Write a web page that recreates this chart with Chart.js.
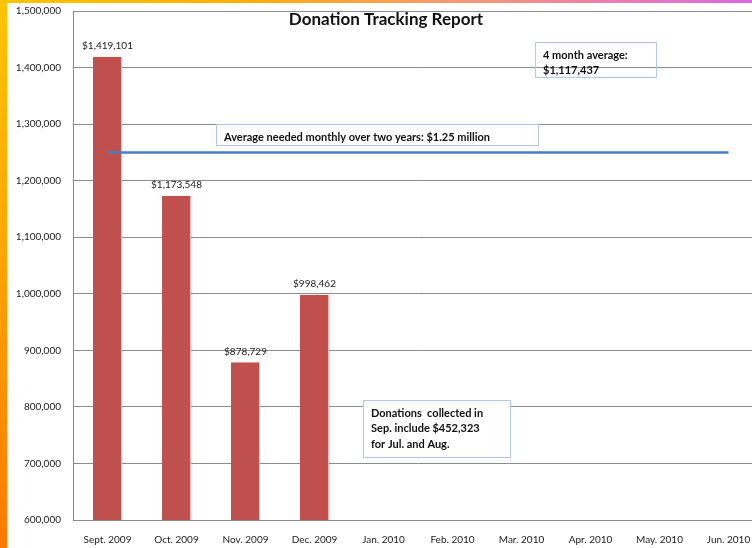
<!DOCTYPE html>
<html>
<head>
<meta charset="utf-8">
<script src="https://cdn.jsdelivr.net/npm/chart.js@4"></script>
<style>
  html, body { margin: 0; padding: 0; overflow: hidden; width: 752px; height: 548px; }
  #leftBar { position: absolute; left: 0; top: 0; width: 7px; height: 548px;
    background: linear-gradient(to bottom, #ffc400, #ffa200 50%, #ff7a00); }
  #topBar { position: absolute; left: 0; top: 0; width: 752px; height: 3px;
    background: linear-gradient(to right, #ffc400, #ffb000 30%, #f59a70 60%, #dd66e6); }
  #wrap { position: absolute; left: 7px; top: 3px; width: 783px; height: 545px; background: #fff; overflow: hidden; }
  #grafico { position: absolute; left: 0; top: -10px; }
</style>
</head>
<body>
<div id="leftBar"></div>
<div id="topBar"></div>
<div id="wrap"><canvas id="grafico" width="783" height="555"></canvas></div>
<script>
const months = ['Sept. 2009', 'Oct. 2009', 'Nov. 2009', 'Dec. 2009', 'Jan. 2010',
                'Feb. 2010', 'Mar. 2010', 'Apr. 2010', 'May. 2010', 'Jun. 2010'];
const donations = [1419101, 1173548, 878729, 998462, null, null, null, null, null, null];
const neededMonthly = 1250000;
const yTicks = [600000, 700000, 800000, 900000, 1000000, 1100000, 1200000, 1300000, 1400000, 1500000];

const chartTitle = 'Donation Tracking Report';
const avgNote = ['4 month average:', '$1,117,437'];
const neededNote = 'Average needed monthly over two years: $1.25 million';
const septNote = ['Donations  collected in', 'Sep. include $452,323', 'for Jul. and Aug.'];

const fontFam = 'Lato, "Open Sans", sans-serif';

function money(v) {
    return '$' + v.toLocaleString('en-US');
}

// labels, title and text boxes (offset 10 for the shifted canvas)
const extras = {
    id: 'extras',
    afterDatasetsDraw(chart) {
        const c = chart.ctx;
        const meta = chart.getDatasetMeta(1);
        c.save();
        c.fillStyle = '#222';
        c.font = '10px ' + fontFam;
        c.textAlign = 'center';
        c.textBaseline = 'middle';
        meta.data.forEach((bar, i) => {
            if (donations[i] == null) return;
            c.fillText(money(donations[i]), bar.x, bar.y - 11);
        });

        c.translate(0, 10);
        c.font = 'bold 17px ' + fontFam;
        c.fillStyle = '#111';
        c.fillText(chartTitle, 379, 17);

        function box(x, y, w, h, lines, lh, fill) {
            if (fill) {
                c.fillStyle = '#fff';
                c.fillRect(x, y, w, h);
            }
            c.strokeStyle = '#b4c8e8';
            c.lineWidth = 1;
            c.strokeRect(x + 0.5, y + 0.5, w, h);
            c.fillStyle = '#111';
            c.font = 'bold 11px ' + fontFam;
            c.textAlign = 'left';
            lines.forEach((t, k) => c.fillText(t, x + 8, y + 13 + k * lh));
        }
        box(528, 39, 121, 35, avgNote, 15, false);
        box(209, 121, 322, 21, [neededNote], 0, true);
        box(356, 397, 147, 57, septNote, 15.5, true);
        c.restore();
    }
};

new Chart(document.getElementById('grafico'), {
    data: {
        labels: months,
        datasets: [{
            type: 'line',
            label: 'Needed',
            data: months.map(() => neededMonthly),
            borderColor: '#4a7ebb',
            borderWidth: 2.5,
            pointRadius: 0,
            order: 0
        }, {
            type: 'bar',
            label: 'Donations',
            data: donations,
            backgroundColor: '#c0504d',
            borderColor: '#f0b8b6',
            borderWidth: { left: 0, right: 1, top: 0, bottom: 0 },
            barPercentage: 0.7,
            categoryPercentage: 0.6,
            order: 1
        }]
    },
    options: {
        responsive: false,
        animation: false,
        layout: { padding: { left: 0, right: 27, top: 0, bottom: 0 } },
        plugins: {
            legend: { display: false },
            title: { display: false },
            tooltip: { enabled: false }
        },
        scales: {
            x: {
                grid: { display: false, drawTicks: false },
                border: { color: '#888', width: 1 },
                ticks: { color: '#222', font: { family: fontFam, size: 10 }, padding: 14, maxRotation: 0, autoSkip: false },
                afterFit(s) { s.height = 28; }
            },
            y: {
                min: 600000,
                max: 1500000,
                afterBuildTicks(s) { s.ticks = yTicks.map(v => ({ value: v })); },
                grid: { color: '#8c8c8c', drawTicks: false },
                border: { color: '#888', width: 1 },
                ticks: {
                    color: '#222',
                    font: { family: fontFam, size: 10 },
                    padding: 12,
                    callback: v => v.toLocaleString('en-US')
                },
                afterFit(s) { s.width = 66; }
            }
        }
    },
    plugins: [extras]
});
</script>
</body>
</html>
